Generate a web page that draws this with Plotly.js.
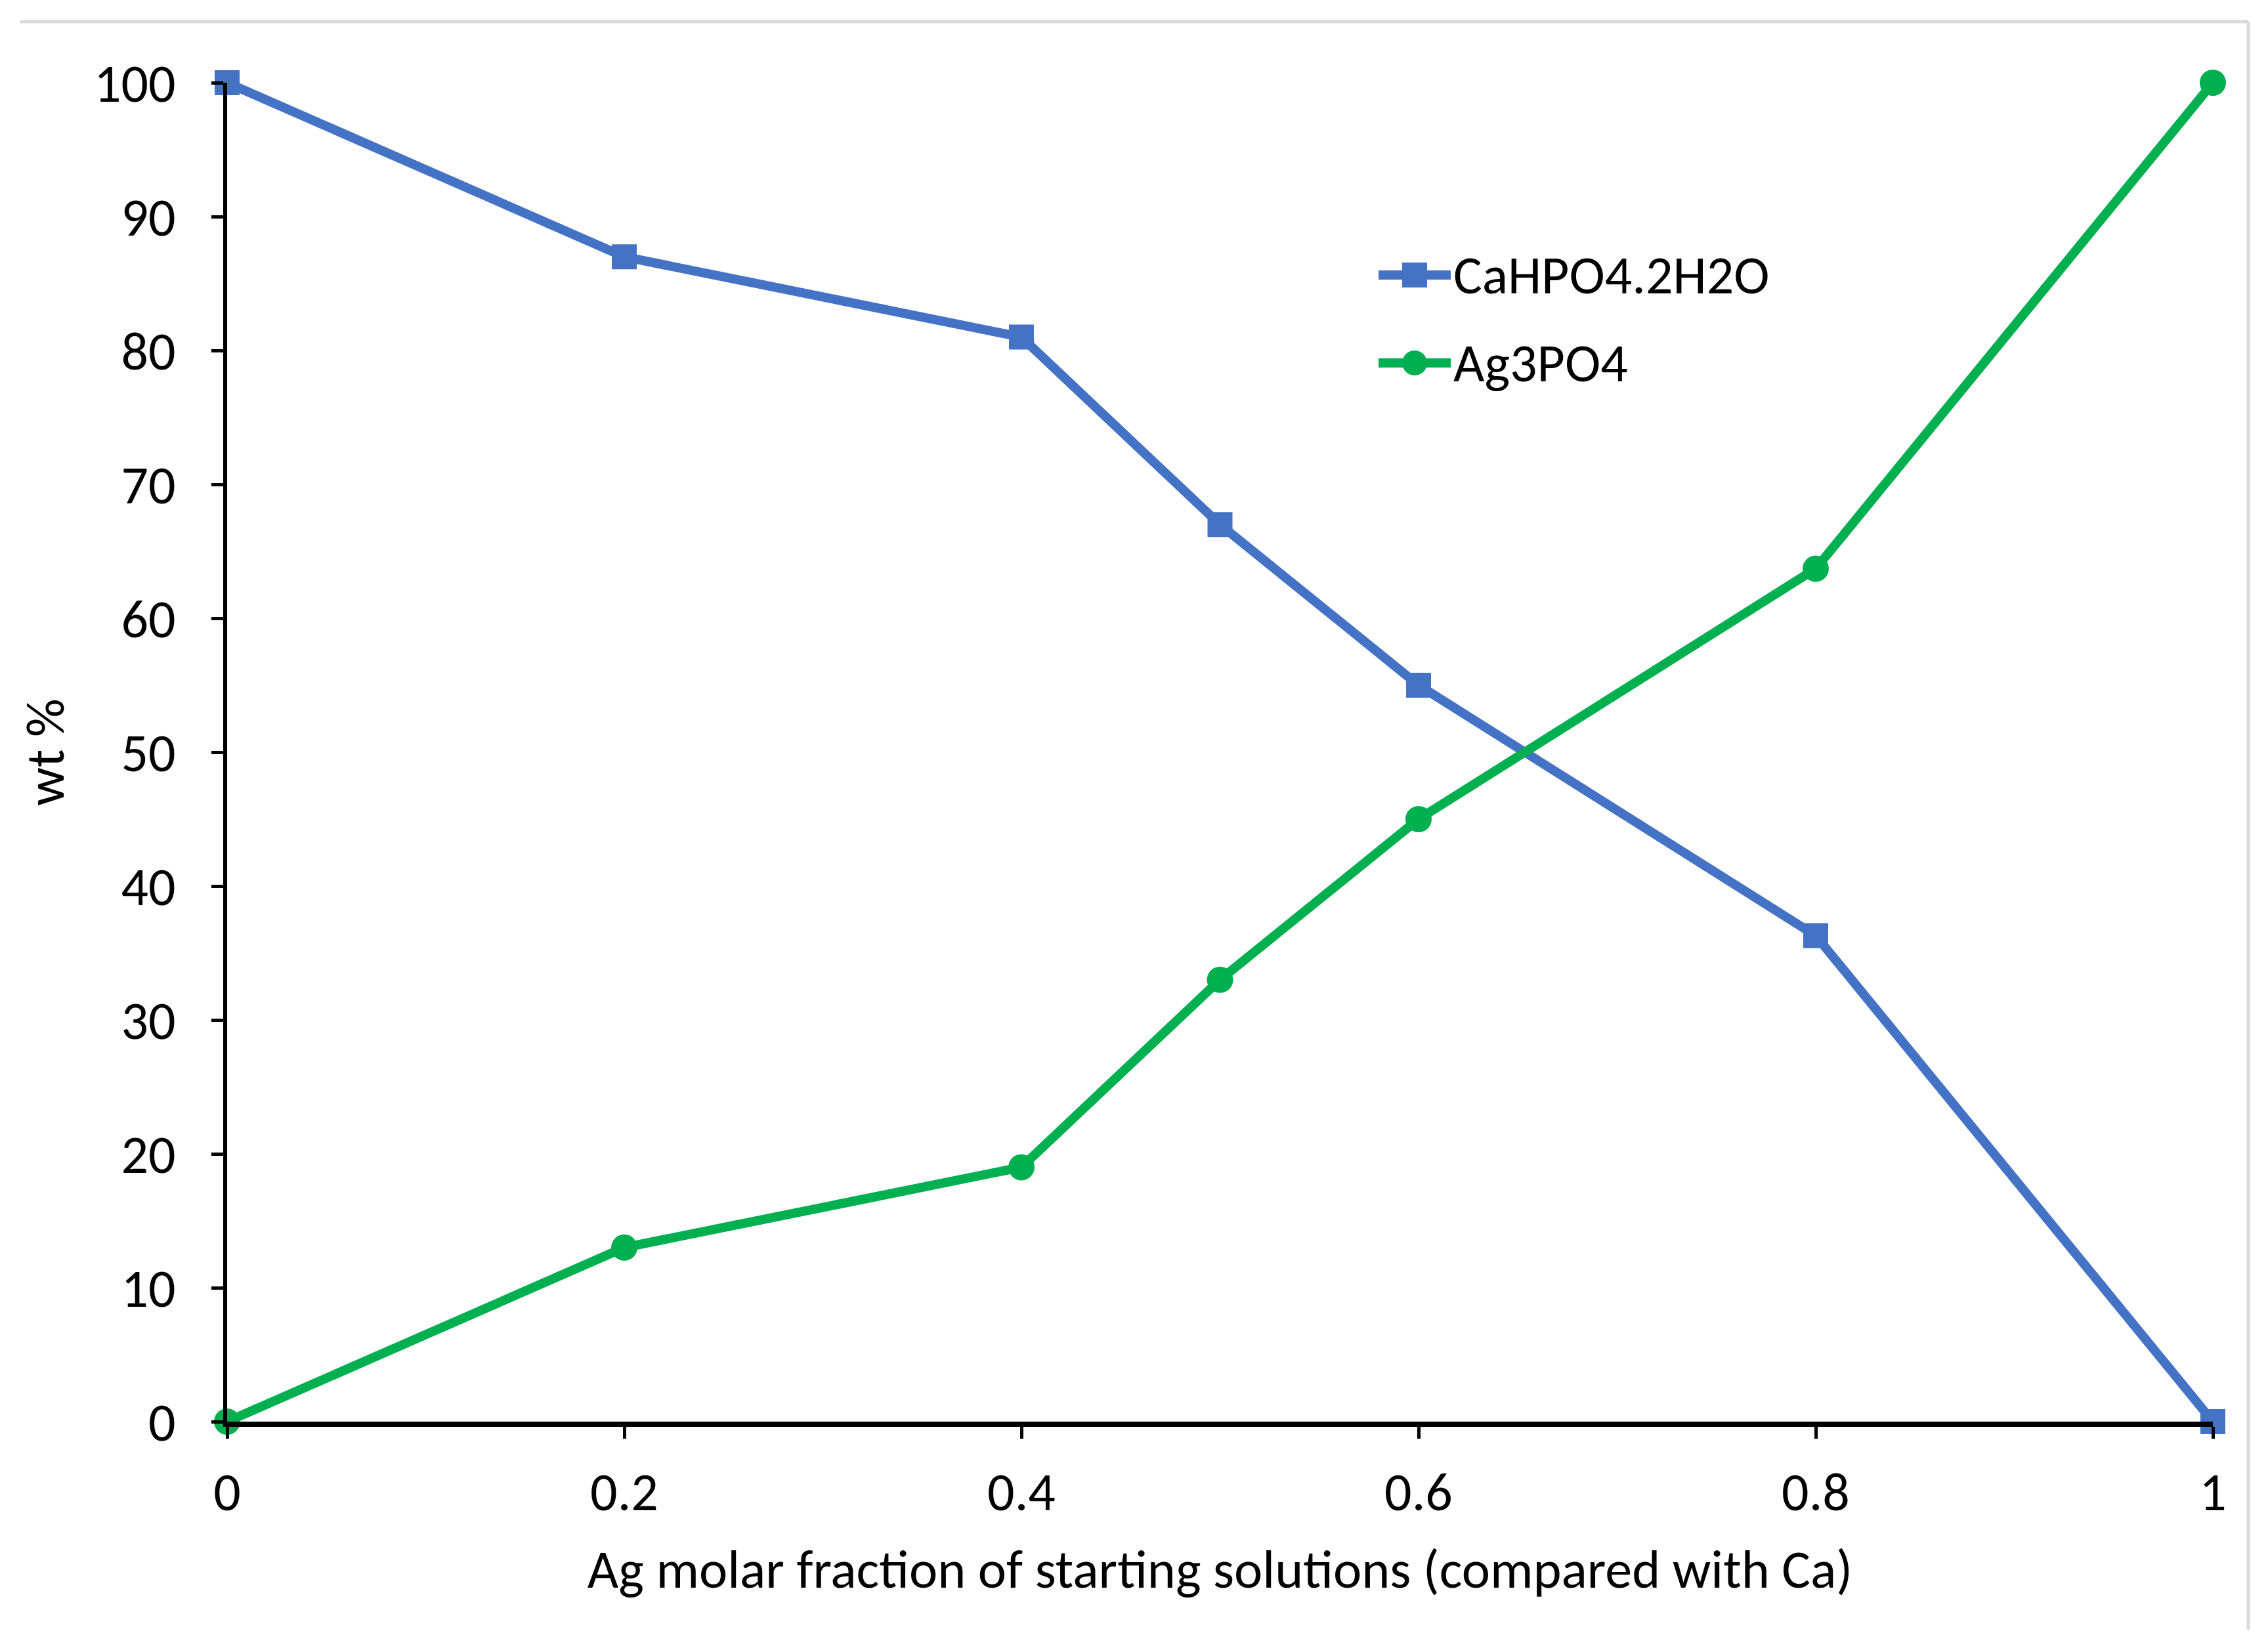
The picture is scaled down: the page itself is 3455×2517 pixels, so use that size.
<!DOCTYPE html>
<html>
<head>
<meta charset="utf-8">
<script src="https://cdn.plot.ly/plotly-3.0.1.min.js"></script>
<style>html,body{margin:0;padding:0;background:#fff;}#chart{width:3455px;height:2517px;}</style>
</head>
<body>
<div id="chart"></div>
<script>
// ---- data ----
const agFraction = [0, 0.2, 0.4, 0.5, 0.6, 0.8, 1];
const cahpo4 = [100, 87.0, 81.0, 67.0, 55.0, 36.3, 0];
const ag3po4 = [0, 13.0, 19.0, 33.0, 45.0, 63.7, 100];
const seriesNames = ["CaHPO4.2H2O", "Ag3PO4"];
const xTickVals = [0, 0.2, 0.4, 0.6, 0.8, 1];
const xTickText = ["0", "0.2", "0.4", "0.6", "0.8", "1"];
const yTickVals = [0, 10, 20, 30, 40, 50, 60, 70, 80, 90, 100];
const xTitle = "Ag molar fraction of starting solutions (compared with Ca)";
const yTitle = "wt %";

const BLUE = "#4472C4", GREEN = "#00B050";
const FONT = "Calibri, Carlito, Lato, sans-serif";
const FS = 82;

const traces = [
  {x: agFraction, y: cahpo4, name: seriesNames[0], type: "scatter", mode: "lines+markers",
   line: {color: BLUE, width: 14}, marker: {symbol: "square", size: 38, color: BLUE},
   cliponaxis: false, showlegend: false},
  {x: agFraction, y: ag3po4, name: seriesNames[1], type: "scatter", mode: "lines+markers",
   line: {color: GREEN, width: 14}, marker: {symbol: "circle", size: 40, color: GREEN},
   cliponaxis: false, showlegend: false}
];

// plot area in pixels
const L = 346, R = 3371, T = 126, B = 2166, W = 3455, H = 2517;
const px = v => (v - L) / (R - L);
const py = v => (B - v) / (B - T);

const legY = [py(419), py(553)];
const legColors = [BLUE, GREEN];
const shapes = [
  // light grey frame pieces (top and right)
  {type: "line", xref: "paper", yref: "paper", x0: px(31), x1: px(3425), y0: py(33), y1: py(33),
   line: {color: "#D9D9D9", width: 5}},
  {type: "line", xref: "paper", yref: "paper", x0: px(3425), x1: px(3425), y0: py(33), y1: py(2483),
   line: {color: "#D9D9D9", width: 5}}
];
const annotations = [];
for (let i = 0; i < 2; i++) {
  shapes.push({type: "line", xref: "paper", yref: "paper", x0: px(2100), x1: px(2210), y0: legY[i], y1: legY[i],
    line: {color: legColors[i], width: 14}});
  shapes.push({type: i === 0 ? "rect" : "circle", xref: "paper", yref: "paper",
    xsizemode: "pixel", ysizemode: "pixel", xanchor: px(2155), yanchor: legY[i],
    x0: -19, x1: 19, y0: -19, y1: 19, fillcolor: legColors[i], line: {width: 0}});
  annotations.push({xref: "paper", yref: "paper", x: px(2212), y: legY[i], xanchor: "left", yanchor: "middle",
    text: seriesNames[i], showarrow: false, font: {family: FONT, size: FS, color: "#000"}});
}

const layout = {
  width: W, height: H,
  margin: {l: L, r: W - R, t: T, b: H - B, pad: 0},
  paper_bgcolor: "#fff", plot_bgcolor: "#fff",
  font: {family: FONT, size: FS, color: "#000"},
  showlegend: false,
  xaxis: {
    range: [0, 1], tickvals: xTickVals, ticktext: xTickText,
    showgrid: false, zeroline: false, showline: true, linecolor: "#000", linewidth: 8,
    ticks: "outside", ticklen: 18, tickwidth: 5, tickcolor: "#000",
    ticklabelstandoff: 11,
    tickfont: {family: FONT, size: FS, color: "#000"},
    title: {text: xTitle, font: {family: FONT, size: FS, color: "#000"}, standoff: 42},
    automargin: false
  },
  yaxis: {
    range: [0, 100], tickvals: yTickVals,
    showgrid: false, zeroline: false, showline: true, linecolor: "#000", linewidth: 6,
    ticks: "outside", ticklen: 18, tickwidth: 5, tickcolor: "#000",
    ticklabelstandoff: 38,
    tickfont: {family: FONT, size: FS, color: "#000"},
    title: {text: yTitle, font: {family: FONT, size: FS, color: "#000"}, standoff: 20},
    automargin: false
  },
  shapes: shapes,
  annotations: annotations
};

Plotly.newPlot("chart", traces, layout, {displayModeBar: false, staticPlot: true});
</script>
</body>
</html>
